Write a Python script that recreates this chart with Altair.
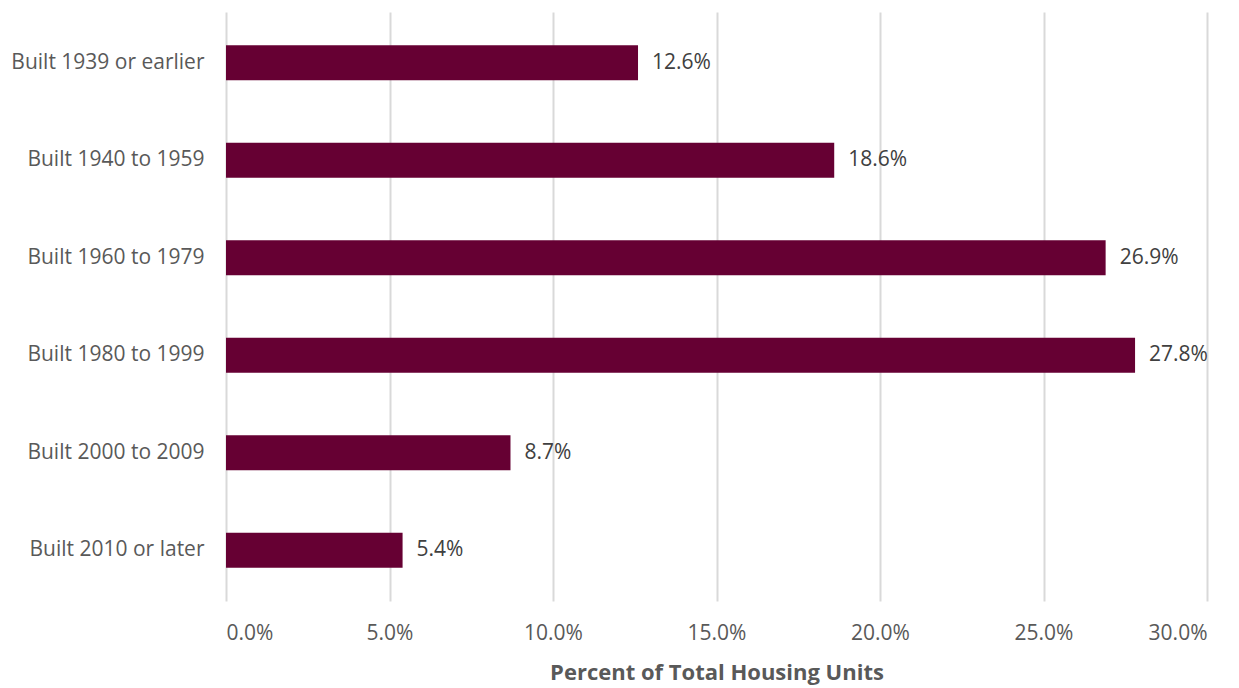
import altair as alt
import pandas as pd

categories = [
    "Built 1939 or earlier",
    "Built 1940 to 1959\u2005",
    "Built 1960 to 1979\u2005",
    "Built 1980 to 1999",
    "Built 2000 to 2009",
    "Built 2010 or later",
]
values = [12.6, 18.6, 26.9, 27.8, 8.7, 5.4]

df = pd.DataFrame({"cat": categories, "pct": [v / 100 for v in values]})

FONT = "Open Sans"

x = alt.X(
    "pct:Q",
    scale=alt.Scale(domain=[0, 0.30], nice=False),
    axis=alt.Axis(
        format=".1%",
        values=[0, 0.05, 0.10, 0.15, 0.20, 0.25, 0.30],
        title="Percent of Total Housing Units",
        titleFont=FONT,
        titleFontSize=22,
        titleFontWeight="bold",
        titleColor="#595959",
        titlePadding=19,
        labelFont=FONT,
        labelFontSize=21,
        labelColor="#595959",
        labelPadding=21,
        grid=True,
        gridColor="#d9d9d9",
        gridWidth=2,
        ticks=False,
        domain=False,
    ),
)
y = alt.Y(
    "cat:N",
    sort=categories,
    scale=alt.Scale(paddingInner=0.64, paddingOuter=0.34),
    axis=alt.Axis(
        title=None,
        labelFont=FONT,
        labelFontSize=21,
        labelColor="#595959",
        labelPadding=22,
        ticks=False,
        domain=False,
        grid=False,
        labelLimit=400,
    ),
)

base = alt.Chart(df).encode(x=x, y=y)
bars = base.mark_bar(color="#660033")
text = base.mark_text(
    align="left", baseline="middle", dx=14, font=FONT, fontSize=21, color="#404040"
).encode(text=alt.Text("pct:Q", format=".1%"))

chart = (
    alt.layer(bars, text)
    .properties(
        width=981,
        height=589,
        autosize=alt.AutoSizeParams(type="none"),
        padding={"left": 218, "top": 4, "right": 20, "bottom": 86},
        view=alt.ViewBackground(stroke="transparent", strokeWidth=0),
    )
    .configure_view(strokeWidth=0, stroke="transparent")
    .configure_axis(domain=False)
    .configure(background="white")
)

chart.save("out.html", embed_options={"renderer": "svg", "actions": False})
